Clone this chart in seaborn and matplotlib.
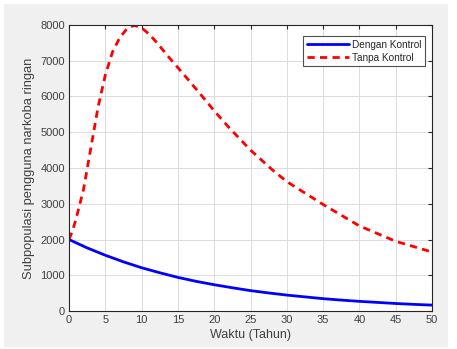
import numpy as np
import pandas as pd
import matplotlib
matplotlib.use("Agg")
import matplotlib.pyplot as plt
from matplotlib.patches import Rectangle
import seaborn as sns

# time in years
t_kontrol = [0, 2.5, 5, 7.5, 10, 12.5, 15, 17.5, 20, 22.5, 25, 27.5, 30, 32.5, 35, 37.5, 40, 42.5, 45, 47.5, 50]
dengan_kontrol = [2000, 1765, 1560, 1375, 1210, 1070, 940, 830, 735, 650, 570, 505, 445, 395, 345, 305, 270, 240, 210, 185, 165]

t_tanpa = [0, 0.5, 1, 1.5, 2, 3, 4, 5, 6, 7, 8, 9, 10, 11, 12, 14, 16, 18, 20, 22, 25, 28, 30, 35, 40, 45, 50]
tanpa_kontrol = [2000, 2250, 2600, 3000, 3400, 4550, 5700, 6600, 7250, 7650, 7900, 7990, 7920, 7750, 7530,
                 7040, 6570, 6090, 5600, 5140, 4500, 3950, 3620, 2980, 2380, 1950, 1650]

sns.set_style("white")
plt.rcParams['font.family'] = ['Liberation Sans', 'DejaVu Sans']

fig = plt.figure(figsize=(4.57, 3.49), dpi=100)
fig.patch.set_facecolor('white')
# MATLAB-like grey figure panel
fig.patches.append(Rectangle((4 / 457, 2 / 349), 444 / 457, 343 / 349, transform=fig.transFigure,
                             facecolor='#f0f0f0', edgecolor='none', zorder=-10))

ax = fig.add_axes([69 / 457, 38 / 349, 363 / 457, 286 / 349])
ax.set_zorder(1)
ax.set_facecolor('white')

df1 = pd.DataFrame({'t': t_kontrol, 'y': dengan_kontrol})
df2 = pd.DataFrame({'t': t_tanpa, 'y': tanpa_kontrol})
sns.lineplot(data=df1, x='t', y='y', ax=ax, color='#0000ff', linewidth=2, label='Dengan Kontrol')
sns.lineplot(data=df2, x='t', y='y', ax=ax, color='#ff0000', linewidth=2, linestyle=(0, (2.6, 1.9)),
             label='Tanpa Kontrol')

ax.set_xlim(0, 50)
ax.set_ylim(0, 8000)
ax.set_xticks(np.arange(0, 51, 5))
ax.set_yticks(np.arange(0, 8001, 1000))
ax.grid(True, color='#dcdcdc', linewidth=0.7)
ax.set_axisbelow(True)
ax.tick_params(direction='in', length=3, top=True, right=True, labelsize=8,
               colors='#262626', labelcolor='#404040', pad=3)
for s in ax.spines.values():
    s.set_color('#262626')
    s.set_linewidth(0.8)
    s.set_visible(True)

ax.set_xlabel('Waktu (Tahun)', fontsize=9, color='#404040', labelpad=3)
ax.set_ylabel('Subpopulasi pengguna narkoba ringan', fontsize=9.3, color='#404040', labelpad=4)

leg = ax.legend(loc='upper right', fontsize=7.2, frameon=True, fancybox=False,
                bbox_to_anchor=(0.98, 0.96), borderpad=0.35, handlelength=4.2,
                handletextpad=0.3, labelspacing=0.3, borderaxespad=0)
leg.get_frame().set_edgecolor('#262626')
leg.get_frame().set_linewidth(0.8)

fig.savefig('out.png', dpi=100)
